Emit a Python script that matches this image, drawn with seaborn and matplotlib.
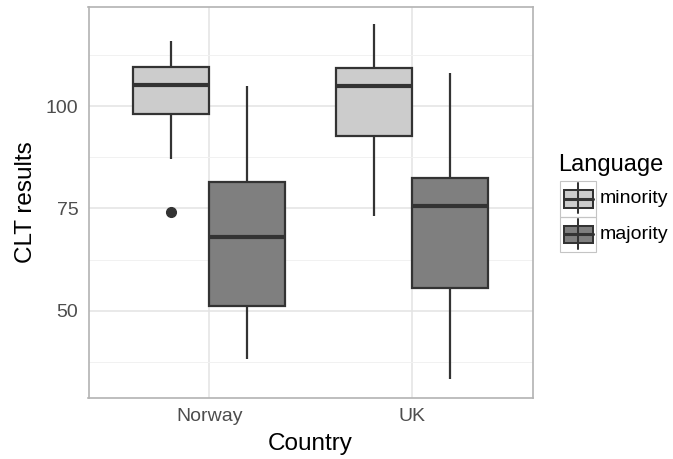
import numpy as np
import pandas as pd
import seaborn as sns
import matplotlib
matplotlib.use("Agg")
import matplotlib.pyplot as plt
from matplotlib.patches import Rectangle

# ---- data (five-number summaries + outliers) ----
countries = ["Norway", "Norway", "UK", "UK"]
languages = ["minority", "majority", "minority", "majority"]
whisker_low = [87.1, 38.2, 73.1, 33.2]
q1 = [98.0, 51.1, 92.6, 55.5]
median = [105.1, 68.1, 105.0, 75.6]
q3 = [109.5, 81.5, 109.4, 82.5]
whisker_high = [116.0, 104.9, 120.0, 108.0]
outliers = [[74.0], [], [], []]

country_order = ["Norway", "UK"]
language_order = ["minority", "majority"]
y_ticks = [50, 75, 100]
y_minor = [37.5, 62.5, 87.5, 112.5]
fill_colors = {"minority": "#CCCCCC", "majority": "#7F7F7F"}

# build sample values that reproduce each summary exactly (linear percentiles)
rows = []
for c, l, lo, a, m, b, hi, out in zip(countries, languages, whisker_low, q1,
                                      median, q3, whisker_high, outliers):
    if out:
        vals = list(out) + [lo, a, a, m, m, b, b, hi]
    else:
        vals = [lo, a, m, b, hi]
    for v in vals:
        rows.append({"Country": c, "Language": l, "CLT": v})
df = pd.DataFrame(rows)

sns.set_theme(style="white")
plt.rcParams["font.family"] = ["Liberation Sans", "DejaVu Sans"]

W, H = 673, 459
fig = plt.figure(figsize=(W / 100, H / 100), dpi=100)
left, right, top, bottom = 88.5, 532.7, 7.0, 397.5
ax = fig.add_axes([left / W, 1 - bottom / H, (right - left) / W, (bottom - top) / H])

line_col = "#333333"
lw = 1.6
sns.boxplot(
    data=df, x="Country", y="CLT", hue="Language",
    order=country_order, hue_order=language_order,
    palette=fill_colors, saturation=1, width=0.75, gap=0,
    linecolor=line_col, linewidth=lw, showcaps=False, whis=1.5,
    fliersize=7,
    flierprops=dict(marker="o", markerfacecolor=line_col,
                    markeredgecolor=line_col),
    boxprops=dict(linewidth=lw),
    whiskerprops=dict(linewidth=lw, color=line_col),
    medianprops=dict(linewidth=3.0, color=line_col),
    legend=False, ax=ax,
)

ax.set_xlim(-0.597, 1.597)
ax.set_ylim(28.8, 124.2)
ax.set_yticks(y_ticks)
ax.set_yticks(y_minor, minor=True)
ax.set_axisbelow(True)
ax.grid(which="major", color="#E3E3E3", linewidth=1.1)
ax.grid(which="minor", axis="y", color="#F1F1F1", linewidth=0.7)
ax.tick_params(which="minor", length=0)
ax.tick_params(which="major", length=4.3, width=0.9, color="#B3B3B3",
               labelsize=14, labelcolor="#4D4D4D", pad=3)
for s in ax.spines.values():
    s.set_visible(True)
    s.set_color("#B3B3B3")
    s.set_linewidth(1.2)

ax.set_xlabel("Country", fontsize=17.5, color="black", labelpad=6)
ax.set_ylabel("CLT results", fontsize=17.5, color="black", labelpad=6)

# ---- legend (drawn in figure pixel coordinates) ----
lax = fig.add_axes([0, 0, 1, 1], facecolor="none")
lax.set_xlim(0, W)
lax.set_ylim(H, 0)
lax.axis("off")
lax.text(558, 171, "Language", fontsize=17, va="baseline", ha="left", color="black")
key_top0, key_h, key_left, key_w = 181.0, 35.5, 560.0, 36.0
for i, lang in enumerate(language_order):
    kt = key_top0 + i * key_h
    lax.add_patch(Rectangle((key_left, kt), key_w, key_h, fill=False,
                            edgecolor="#C4C4C4", lw=0.8))
    cx = key_left + key_w / 2
    lax.plot([cx, cx], [kt + 2, kt + 32], color=line_col, lw=1.45)
    lax.add_patch(Rectangle((key_left + 3.5, kt + 9), key_w - 7, 17.5,
                            facecolor=fill_colors[lang], edgecolor=line_col, lw=1.45))
    lax.plot([key_left + 3.5, key_left + key_w - 3.5], [kt + 17.8, kt + 17.8],
             color=line_col, lw=2.2)
    lax.text(600, kt + key_h / 2, lang, fontsize=14, va="center", ha="left",
             color="black")

fig.savefig("out.png", dpi=100)
